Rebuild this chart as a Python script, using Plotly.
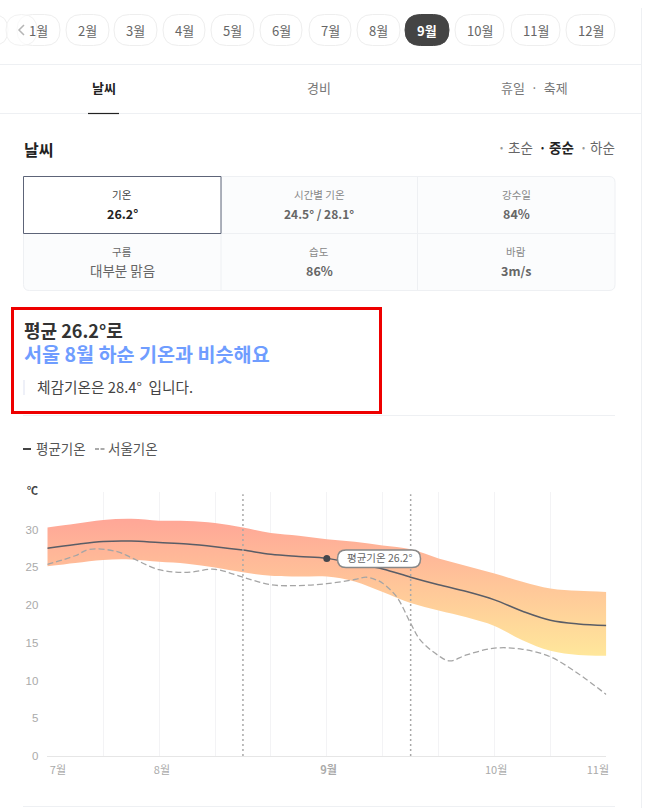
import plotly.graph_objects as go

# 차트 데이터
periods = [0, 0.5, 1, 1.5, 2, 2.5, 3, 3.5, 4, 4.5, 5, 5.5, 6, 6.5, 7, 7.5, 8, 8.5, 9, 9.5, 10]
temp_high = [30.3, 30.8, 31.3, 31.45, 31.2, 31.15, 30.9, 30.3, 29.55, 29.2, 28.75,
             28.4, 27.9, 27.4, 26.2, 25.2, 24.2, 23.1, 22.2, 21.9, 21.75]
temp_low = [25.15, 25.6, 26.0, 26.05, 25.75, 25.5, 25.0, 24.35, 23.9, 23.8, 23.8,
            23.15, 21.75, 20.3, 19.3, 18.4, 17.25, 15.35, 13.95, 13.4, 13.3]
temp_avg = [27.55, 28.05, 28.45, 28.5, 28.3, 28.1, 27.75, 27.3, 26.75, 26.45, 26.2,
            25.5, 24.8, 23.7, 22.7, 21.8, 20.7, 19.2, 18.0, 17.5, 17.3]

seoul_x = [0, 0.5, 0.75, 1.25, 1.5, 2, 2.5, 3, 3.5, 4, 4.5, 5, 5.5, 5.71, 5.9, 6, 6.25, 6.5,
           6.67, 7, 7.2, 7.5, 8, 8.5, 9, 9.5, 10]
seoul_temp = [25.4, 26.55, 27.4, 27.1, 26.3, 24.7, 24.35, 24.75, 23.7, 22.7, 22.6, 22.85,
              23.4, 23.7, 23.3, 22.9, 21.1, 17.6, 15.4, 13.3, 12.6, 13.4, 14.3, 14.15, 13.15,
              10.9, 8.15]

month_ticks = [0.19, 2.05, 5.03, 8.03, 9.85]
month_labels = ["7월", "8월", "<b>9월</b>", "10월", "11월"]
y_ticks = [0, 5, 10, 15, 20, 25, 30]
period_edges = [3.5, 6.5]
current_x = [5]
current_y = [26.2]

# 상단 탭
pill_labels = ["1월", "2월", "3월", "4월", "5월", "6월", "7월", "8월", "9월", "10월", "11월", "12월"]
pill_left = [17, 66, 114, 163, 211, 260, 309, 357, 405, 455, 511, 566]
pill_right = [60, 109, 157, 205, 254, 302, 351, 400, 449, 504, 560, 615]

KR = "Noto Sans CJK KR"
LINE = "#eef0f3"

fig = go.Figure()

# 기온 범위 (그라데이션)
fig.add_trace(go.Scatter(x=periods, y=temp_low, mode="lines",
                         line=dict(width=0, shape="spline"), hoverinfo="skip"))
fig.add_trace(go.Scatter(
    x=periods,
    y=temp_high,
    mode="lines",
    line=dict(width=0, shape="spline"),
    fill="tonexty",
    fillgradient=dict(type="vertical", start=31.5, stop=13.3,
                      colorscale=[[0, "#ffa697"], [1, "#ffe79b"]]),
    hoverinfo="skip",
))
fig.add_trace(go.Scatter(x=seoul_x, y=seoul_temp, mode="lines",
                         line=dict(color="#a5a5a5", width=1.3, dash="6px,3px", shape="spline")))
fig.add_trace(go.Scatter(x=periods, y=temp_avg, mode="lines",
                         line=dict(color="#5a5d66", width=1.5, shape="spline")))
fig.add_trace(go.Scatter(x=current_x, y=current_y, mode="markers",
                         marker=dict(color="#44474d", size=7)))

# 보이지 않는 페이지 축 (픽셀 좌표)
fig.add_trace(go.Scatter(x=[0], y=[0], xaxis="x2", yaxis="y2", mode="markers",
                         marker=dict(opacity=0), hoverinfo="skip"))


def box(x0, y0, x1, y1, r=0, fill="rgba(0,0,0,0)", color="rgba(0,0,0,0)", width=1):
    if r:
        path = (f"M{x0+r},{y0} L{x1-r},{y0} Q{x1},{y0} {x1},{y0+r} L{x1},{y1-r} Q{x1},{y1} {x1-r},{y1} "
                f"L{x0+r},{y1} Q{x0},{y1} {x0},{y1-r} L{x0},{y0+r} Q{x0},{y0} {x0+r},{y0} Z")
        fig.add_shape(type="path", path=path, xref="x2", yref="y2", fillcolor=fill,
                      line=dict(color=color, width=width), layer="above")
    else:
        fig.add_shape(type="rect", x0=x0, y0=y0, x1=x1, y1=y1, xref="x2", yref="y2", fillcolor=fill,
                      line=dict(color=color, width=width), layer="above")


def rule(x0, y0, x1, y1, color=LINE, width=1):
    fig.add_shape(type="line", x0=x0, y0=y0, x1=x1, y1=y1, xref="x2", yref="y2",
                  line=dict(color=color, width=width), layer="above")


def label(x, y, text, size=13, color="#666666", anchor="center", font=KR):
    if anchor == "left":
        x -= 2  # annotation 안쪽 여백 보정
    fig.add_annotation(x=x, y=y - 1, xref="x2", yref="y2", text=text, showarrow=False, xanchor=anchor,
                       yanchor="middle", font=dict(family=font, size=size, color=color))


# 점선 구간 표시
for edge in period_edges:
    fig.add_shape(type="line", x0=edge, x1=edge, y0=0, y1=34.7, xref="x", yref="y",
                  line=dict(color="#a8a8a8", width=1.5, dash="2px,3px"), layer="above")

# 월 선택 버튼
for name, left, right in zip(pill_labels, pill_left, pill_right):
    active = name == "9월"
    box(left, 14.5, right, 45.5, r=15.5, fill="#444444" if active else "#ffffff",
        color="#444444" if active else "#eeeeee")
    label((left + right) / 2, 31, f"<b>{name}</b>" if active else name, 13,
          "#ffffff" if active else "#666666")
box(-24, 14.5, 8, 45.5, r=15.5, fill="rgba(255,255,255,0.8)", color="#eeeeee")
box(6, 14.5, 37, 45.5, r=15.5, fill="rgba(255,255,255,0.65)", color="#f2f2f2")
fig.add_shape(type="path", path="M24,25 L19,30 L24,35", xref="x2", yref="y2",
              line=dict(color="#b5b5b5", width=1.5), layer="above")

# 구분선, 탭
rule(641.5, 8, 641.5, 808)
rule(0, 64.5, 641, 64.5)
rule(0, 113.5, 641, 113.5)
rule(88, 113.5, 119, 113.5, "#222222", 1.2)
label(104, 88, "<b>날씨</b>", 13, "#222222")
label(319, 88, "경비", 13, "#777777")
label(534, 88, "휴일  ·  축제", 13, "#777777")

# 날씨 제목
label(24, 150, "<b>날씨</b>", 16, "#222222", "left")
for dot_x, text_x, name, on in [(501, 508, "초순", False), (542, 549, "중순", True), (583, 590, "하순", False)]:
    label(dot_x, 148, "•", 9, "#222222" if on else "#999999")
    label(text_x, 148, f"<b>{name}</b>" if on else name, 13.5, "#222222" if on else "#666666", "left")

# 요약 표
box(23.5, 176.5, 615, 290.5, r=6, fill="#fbfcfd", color="#eef0f3")
rule(221, 177, 221, 290)
rule(417.5, 177, 417.5, 290)
rule(24, 233.5, 615, 233.5)
box(23.5, 176.5, 221, 233.5, fill="#ffffff", color="#5d6478", width=1)
cells = [
    (122, 195, "기온", 214, "<b>26.2°</b>", "#222222", "#444444", 12.5),
    (319, 195, "시간별 기온", 214, "<b>24.5° / 28.1°</b>", "#666666", "#888888", 12),
    (516, 195, "강수일", 214, "<b>84%</b>", "#666666", "#888888", 12.5),
    (122, 252, "구름", 271, "대부분 맑음", "#666666", "#666666", 13.5),
    (319, 252, "습도", 271, "<b>86%</b>", "#666666", "#888888", 12.5),
    (516, 252, "바람", 271, "<b>3m/s</b>", "#666666", "#888888", 12.5),
]
for cx, ly, name, vy, value, vcolor, lcolor, vsize in cells:
    label(cx, ly, name, 10.5, lcolor)
    label(cx, vy, value, vsize, vcolor)

# 강조 박스
box(12.5, 308.5, 380.5, 412.5, color="#ee0000", width=3)
label(24, 331, "<b>평균 26.2°로</b>", 18, "#333333", "left")
label(24, 354.5, "<b>서울 8월 하순 기온과 비슷해요</b>", 19.6, "#6f9dff", "left")
rule(24, 380, 24, 395, "#eef0f8", 2)
label(37, 387, "체감기온은 28.4°  입니다.", 14.7, "#444444", "left")
rule(23, 415.5, 615, 415.5)

# 범례
rule(23, 449, 31, 449, "#444444", 2)
label(36, 449, "평균기온", 13.5, "#555555", "left")
rule(95, 449, 99, 449, "#aaaaaa", 2)
rule(100.5, 449, 104.5, 449, "#aaaaaa", 2)
label(108, 449, "서울기온", 13.5, "#555555", "left")

# 차트 단위, 말풍선, 아래 구분선
label(32, 491, "<b>℃</b>", 11, "#444444")
box(337.5, 550, 420.5, 567.5, r=8.5, fill="#ffffff", color="#888888", width=1.5)
label(379, 558.5, "평균기온 26.2°", 10.5, "#666666")
rule(23, 806.5, 615, 806.5)

fig.update_layout(
    width=645, height=808,
    margin=dict(l=0, r=0, t=0, b=0, autoexpand=False),
    paper_bgcolor="white", plot_bgcolor="rgba(0,0,0,0)",
    showlegend=False,
    xaxis=dict(domain=[47.3 / 645, 606.3 / 645], range=[0, 10], anchor="y",
               tickmode="array", tickvals=month_ticks, ticktext=month_labels, ticks="",
               showgrid=False, zeroline=False, showline=True, linecolor="#e6e6e6",
               ticklabelstandoff=4,
               tickfont=dict(family=KR, size=11, color="#aaaaaa"),
               minor=dict(showgrid=True, dtick=1, tick0=0, gridcolor="#f3f3f5", gridwidth=1)),
    yaxis=dict(domain=[52 / 808, 316 / 808], range=[0, 35], anchor="x",
               tickmode="array", tickvals=y_ticks, ticks="", showgrid=False, zeroline=False,
               ticklabelstandoff=8,
               tickfont=dict(family="Liberation Sans", size=11.5, color="#aaaaaa")),
    xaxis2=dict(domain=[0, 1], range=[0, 645], anchor="y2", visible=False),
    yaxis2=dict(domain=[0, 1], range=[808, 0], anchor="x2", visible=False),
)

fig.write_html("out.html", config=dict(displayModeBar=False),
               post_script="document.body.style.margin='0';document.body.style.overflow='hidden';")
